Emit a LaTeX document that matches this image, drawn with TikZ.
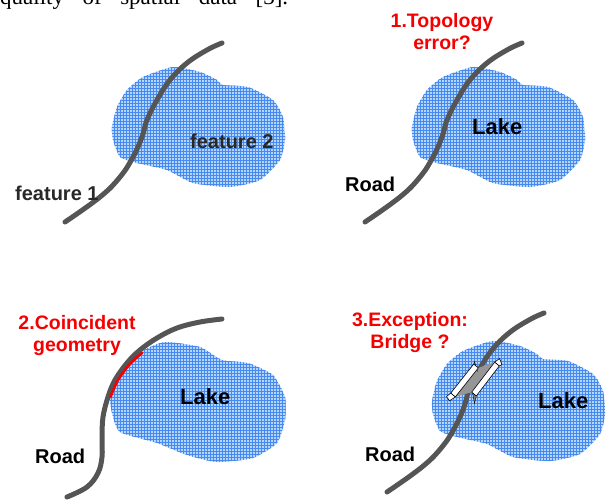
\documentclass[tikz,border=0pt]{standalone}
\usepackage{fontspec}
\setmainfont{Liberation Sans}
\newfontfamily\bodyserif{Liberation Serif}
\usetikzlibrary{patterns}

\definecolor{lakefill}{RGB}{180,213,253}
\definecolor{lakegrid}{RGB}{70,138,240}
\definecolor{roadgray}{RGB}{85,85,85}
\definecolor{deckgray}{RGB}{150,150,150}
\definecolor{alertred}{RGB}{245,0,0}
\definecolor{featgray}{RGB}{40,40,40}

\tikzset{
  lake/.style={preaction={fill=lakefill}, pattern=grid, pattern color=lakegrid},
  road/.style={draw=roadgray, line width=5pt, line cap=round},
  lbl/.style={font=\bfseries\fontsize{20}{22}\selectfont, text=black,
              inner sep=0pt, anchor=base west},
  lakelbl/.style={lbl, font=\bfseries\fontsize{22}{24}\selectfont},
  note/.style={font=\bfseries\fontsize{19.5}{22.5}\selectfont, text=alertred,
               align=center, inner sep=0pt, anchor=north},
  parapet/.style={draw=black, line width=0.6pt, fill=white, line join=round},
  wing/.style={draw=black, line width=0.4pt, fill=gray},
  % irregular water body
  lakeblob/.pic={
    \path[lake] plot[smooth cycle, tension=0.35] coordinates {
      (173,67) (200,72) (217,80) (223,85) (248,87) (273,100) (283,117)
      (285,140) (280,160) (260,180) (230,187) (193,183) (167,170)
      (137,163) (120,157) (113,140) (112,127) (117,107) (127,90) (143,77)};
  },
  % S-shaped road line
  sroad/.pic={
    \draw[road] plot[smooth, tension=0.7] coordinates {
      (65,222) (100,197) (120,177) (133,157) (142,137) (147,120)
      (157,100) (170,80) (187,63) (207,50) (222,43)};
  }
}

\begin{document}
\begin{tikzpicture}[x=1pt, y=-1pt]
\useasboundingbox (0,0) rectangle (610,499);

% running text line above the figure
\node[inner sep=0pt, anchor=base west,
      font=\bodyserif\fontsize{23}{23}\selectfont] (runningtext) at (0,4)
  {\hbox to 288pt{quality\hfill of\hfill spatial\hfill data\hfill [3].}};

% ---- panel 1: two features ----
\pic at (0,0) {lakeblob};
\pic at (0,0) {sroad};
\node[lbl, text=featgray] (feat1) at (15,200) {feature 1};
\node[lbl, text=featgray] (feat2) at (190,148) {feature 2};

% ---- panel 2: topology error ----
\pic at (300,0) {lakeblob};
\pic at (300,0) {sroad};
\node[note] (note1) at (442,13) {1.Topology\\error?};
\node[lakelbl] (lake2) at (472,134) {Lake};
\node[lbl] (road2) at (345,191) {Road};

% ---- panel 3: coincident geometry ----
\path[lake] plot[smooth cycle, tension=0.35] coordinates {
  (142,351) (165,342) (200,347) (222,360) (248,363) (273,375) (285,397)
  (285,420) (277,443) (253,458) (217,462) (187,455) (157,443) (120,432)
  (112,413) (110,397) (117,380) (128,363)};
\draw[road] plot[smooth, tension=0.6] coordinates {
  (67,497) (87,487) (98,473) (102,457) (102,437) (103,417) (108,397)
  (115,380) (127,363) (140,350) (157,338) (177,328) (200,322) (222,319)};
\draw[alertred, line width=2.6pt, line cap=round] plot[smooth, tension=0.6]
  coordinates {(110.5,397) (117.5,381) (129,365) (142,353)};
\node[note] (note2) at (77,315) {2.Coincident\\geometry};
\node[lakelbl] (lake3) at (180,404) {Lake};
\node[lbl] (road3) at (35,463) {Road};

% ---- panel 4: bridge exception ----
\pic at (320,274) {lakeblob};
\pic at (322,270) {sroad};
% bridge deck
\fill[deckgray] (455.3,396.9) -- (478.3,367.9) -- (494.7,362.1) -- (471.7,392.1) -- cycle;
% side wings
\draw[wing] (473.7,364.1) -- (474.5,361.5) -- (477.5,371.5) -- cycle;
\draw[wing] (476.3,395.9) -- (474.5,403.5) -- (472.5,392.5) -- cycle;
% parapets
\draw[parapet] (450.7,393.1) -- (473.7,364.1) -- (478.3,367.9) -- (455.3,396.9) -- cycle;
\draw[parapet] (471.7,392.1) -- (494.7,362.1) -- (499.3,365.9) -- (476.3,395.9) -- cycle;
\draw[parapet] (446.5,396.5) -- (450.7,393.1) -- (455.3,396.9) -- (449.5,400.8) -- cycle;
\draw[parapet] (494.7,362.1) -- (499.5,358.5) -- (502,364.5) -- (499.3,365.9) -- cycle;
\node[note] (note3) at (410,312) {3.Exception:\\Bridge ?};
\node[lakelbl] (lake4) at (538,408) {Lake};
\node[lbl] (road4) at (365,461) {Road};
\end{tikzpicture}
\end{document}
